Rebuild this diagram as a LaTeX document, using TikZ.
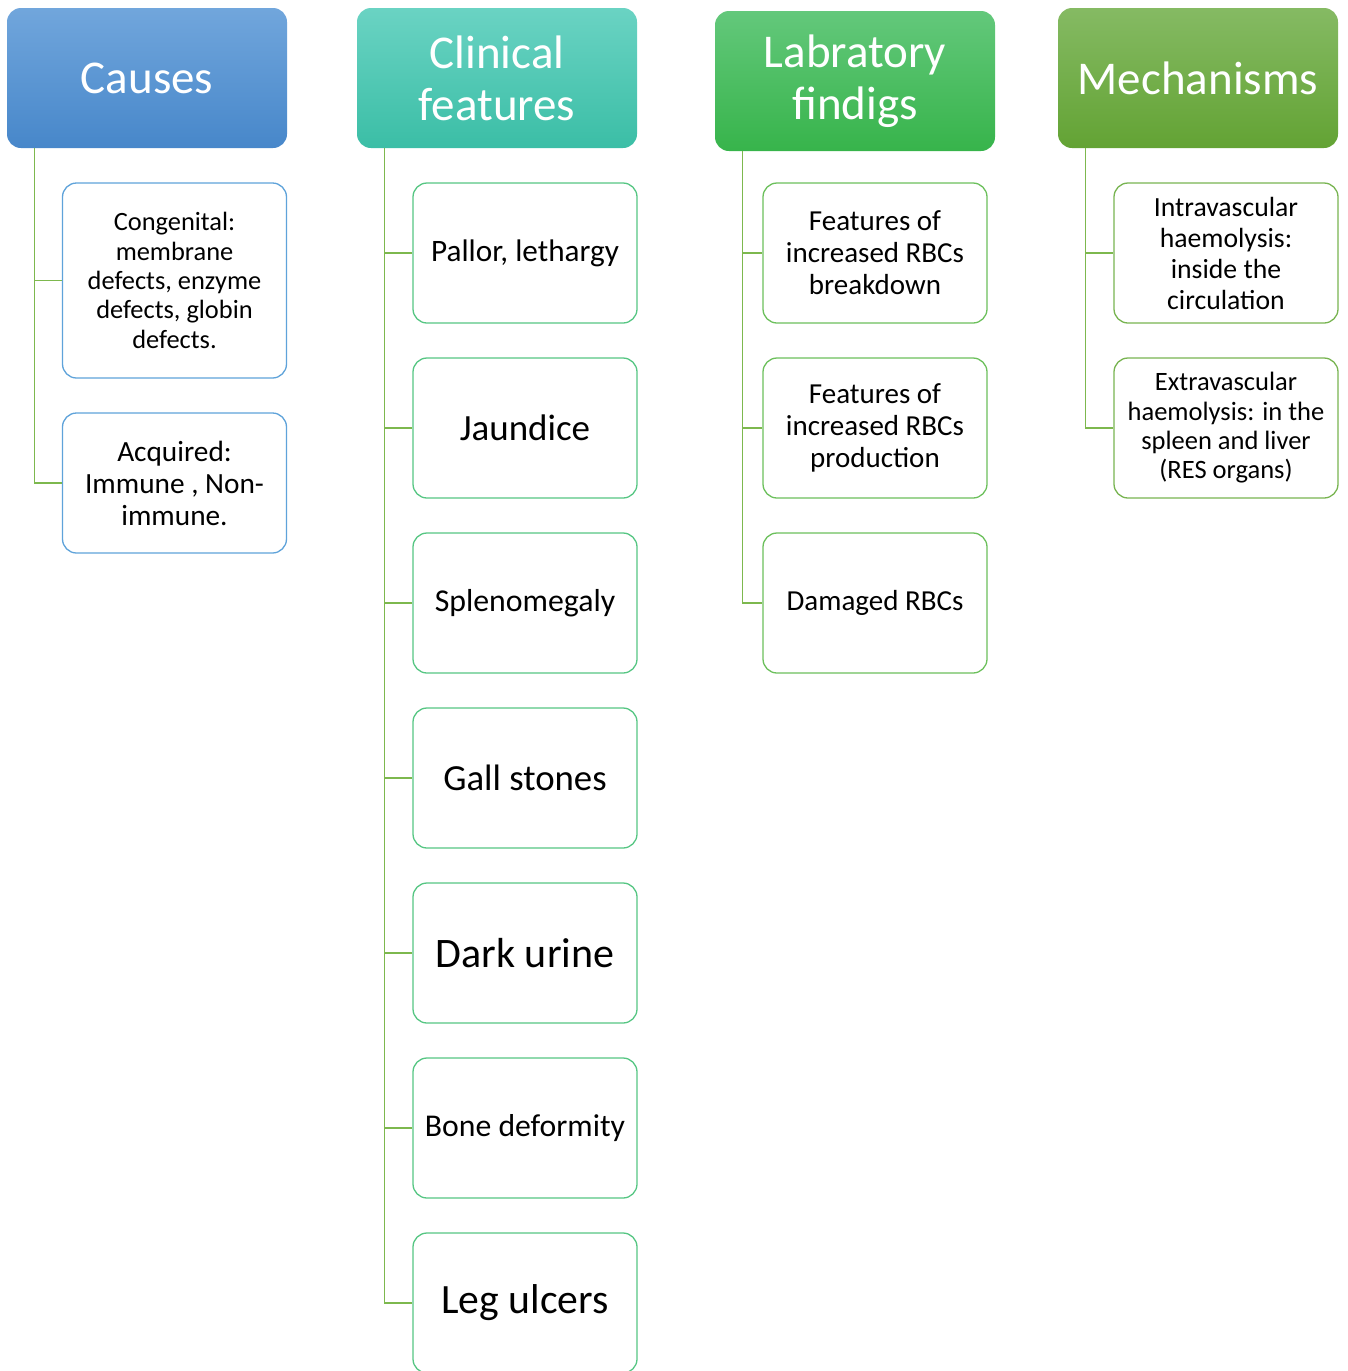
\documentclass[tikz,border=0pt]{standalone}
\usepackage{fontspec}
\setmainfont{Carlito}
\newcommand{\fs}[2]{\fontsize{#1}{#2}\selectfont}
\definecolor{linkgreen}{HTML}{7DB84E}
\definecolor{blueA}{HTML}{71A6DC}
\definecolor{blueB}{HTML}{4787CA}
\definecolor{tealA}{HTML}{6AD3C3}
\definecolor{tealB}{HTML}{3BBEA6}
\definecolor{greenA}{HTML}{63C87B}
\definecolor{greenB}{HTML}{37B44B}
\definecolor{oliveA}{HTML}{85BA63}
\definecolor{oliveB}{HTML}{63A334}
\definecolor{edgeBlue}{HTML}{5FA3DA}
\definecolor{edgeTeal}{HTML}{56C683}
\definecolor{edgeGreen}{HTML}{6CC05C}
\definecolor{edgeOlive}{HTML}{78B451}
\begin{document}
\begin{tikzpicture}[x=1pt,y=-1pt,
  header/.style={rounded corners=14pt, minimum width=280pt, minimum height=140pt,
    inner sep=0pt, align=center, text=white, font=\fs{47}{52}},
  item/.style={draw, line width=1.3pt, rounded corners=14pt, fill=white,
    minimum width=224pt, minimum height=140pt, inner sep=0pt, align=center, text=black},
  link/.style={draw=linkgreen, line width=1.6pt}]
\useasboundingbox (0,0) rectangle (1347,1371);

% column headers
\node[header, top color=blueA, bottom color=blueB] (causes) at (147,78) {Causes};
\node[header, top color=tealA, bottom color=tealB] (clin) at (497,78) {Clinical\\features};
\node[header, top color=greenA, bottom color=greenB] (lab) at (855,81) {Labratory\\findigs};
\node[header, top color=oliveA, bottom color=oliveB] (mech) at (1198,78) {Mechanisms};

% causes
\node[item, draw=edgeBlue, minimum height=195pt, font=\fs{26.4}{29.3}] (cong) at (174.5,280.5)
  {Congenital:\\membrane\\defects, enzyme\\defects, globin\\defects.};
\node[item, draw=edgeBlue, font=\fs{29.3}{32}] (acq) at (174.5,483)
  {Acquired:\\Immune , Non-\\immune.};

% clinical features
\node[item, draw=edgeTeal, font=\fs{31.2}{36}] (c1) at (525,253) {Pallor, lethargy};
\node[item, draw=edgeTeal, font=\fs{37}{42}] (c2) at (525,428) {Jaundice};
\node[item, draw=edgeTeal, font=\fs{31.8}{36}] (c3) at (525,603) {Splenomegaly};
\node[item, draw=edgeTeal, font=\fs{36.8}{42}] (c4) at (525,778) {Gall stones};
\node[item, draw=edgeTeal, font=\fs{42}{48}] (c5) at (525,953) {Dark urine};
\node[item, draw=edgeTeal, font=\fs{31.7}{36}] (c6) at (525,1128) {Bone deformity};
\node[item, draw=edgeTeal, font=\fs{41.7}{48}] (c7) at (525,1303) {Leg ulcers};

% laboratory findings
\node[item, draw=edgeGreen, font=\fs{29}{32}] (l1) at (875,253)
  {Features of\\increased RBCs\\breakdown};
\node[item, draw=edgeGreen, font=\fs{29}{32}] (l2) at (875,428)
  {Features of\\increased RBCs\\production};
\node[item, draw=edgeGreen, font=\fs{29}{32}] (l3) at (875,603) {Damaged RBCs};

% mechanisms
\node[item, draw=edgeOlive, font=\fs{27.7}{31}] (m1) at (1226,253)
  {Intravascular\\haemolysis:\\inside the\\circulation};
\node[item, draw=edgeOlive, font=\fs{26.5}{29.3}] (m2) at (1226,428)
  {Extravascular\\haemolysis: in the\\spleen and liver\\(RES organs)};

% tree connectors
\foreach \h/\c in {causes/cong, causes/acq,
                   clin/c1, clin/c2, clin/c3, clin/c4, clin/c5, clin/c6, clin/c7,
                   lab/l1, lab/l2, lab/l3,
                   mech/m1, mech/m2}
  \draw[link] ([xshift=27.5pt]\h.south west) |- (\c.west);
\end{tikzpicture}
\end{document}
